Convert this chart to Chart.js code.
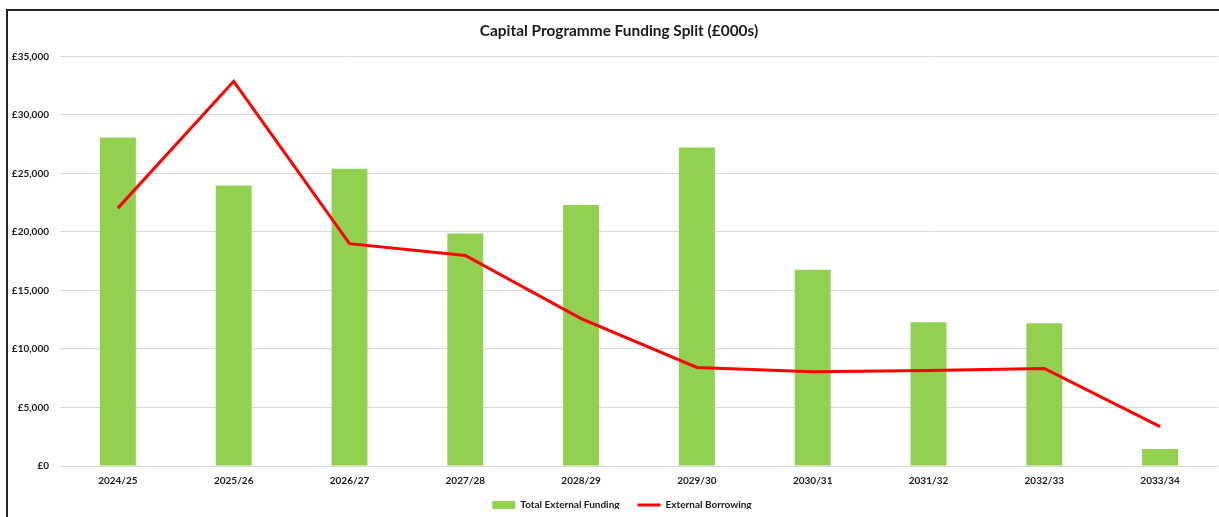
<!DOCTYPE html>
<html>
<head>
<meta charset="utf-8">
<script src="https://cdn.jsdelivr.net/npm/chart.js@4/dist/chart.umd.min.js"></script>
<style>
  html, body { margin: 0; padding: 0; background: #ffffff; }
  #wrap { position: relative; width: 1219px; height: 517px; overflow: hidden; }
  #frame { position: absolute; left: 6px; top: 9px; width: 1400px; height: 700px;
           border-left: 2px solid #222; border-top: 2px solid #222; }
  #c { position: absolute; left: 0; top: 0; }
</style>
</head>
<body>
<div id="wrap">
  <div id="frame"></div>
  <canvas id="c" width="1219" height="517"></canvas>
</div>
<script>
const categories = ['2024/25','2025/26','2026/27','2027/28','2028/29','2029/30','2030/31','2031/32','2032/33','2033/34'];
const totalExternalFunding = [28070, 23980, 25400, 19880, 22300, 27220, 16780, 12290, 12200, 1450];
const externalBorrowing = [22040, 32880, 19000, 18000, 12600, 8420, 8050, 8170, 8330, 3360];
const seriesNames = ['Total External Funding', 'External Borrowing'];
const titleText = 'Capital Programme Funding Split (£000s)';
const yMax = 35000;
const yStep = 5000;

const FONT = 'Lato, "Open Sans", sans-serif';
const TXT = '#1a1a1a';

// keeps the legend compact in the layout and places title / legend as in the reference
const boxPlacer = {
  id: 'boxPlacer',
  afterInit(chart) {
    const lg = chart.legend;
    if (!lg) return;
    const origFit = lg.fit.bind(lg);
    lg.fit = function () { origFit(); this.height = 27; };
  },
  afterLayout(chart) {
    const lg = chart.legend;
    if (lg) {
      lg.top -= 8; lg.bottom -= 8;
      lg.left += 8; lg.right += 8;
    }
    const tb = chart.titleBlock;
    if (tb) { tb.left += 5; tb.right += 5; }
  }
};

new Chart(document.getElementById('c'), {
  type: 'bar',
  data: {
    labels: categories,
    datasets: [
      {
        type: 'bar',
        label: seriesNames[0],
        data: totalExternalFunding,
        backgroundColor: '#92D050',
        borderWidth: 0,
        barPercentage: 0.31,
        categoryPercentage: 1.0,
        pointStyle: 'rect',
        order: 2
      },
      {
        type: 'line',
        label: seriesNames[1],
        data: externalBorrowing,
        borderColor: '#FF0000',
        backgroundColor: '#FF0000',
        borderWidth: 3,
        pointRadius: 0,
        tension: 0,
        fill: false,
        pointStyle: 'line',
        order: 1
      }
    ]
  },
  plugins: [boxPlacer],
  options: {
    responsive: false,
    animation: false,
    layout: { padding: { top: 14, left: 10, right: 1, bottom: 0 } },
    plugins: {
      title: {
        display: true,
        text: titleText,
        color: TXT,
        font: { family: FONT, size: 15.4, weight: 'bold' },
        padding: { top: 8, bottom: 16 }
      },
      legend: {
        position: 'bottom',
        labels: {
          usePointStyle: true,
          pointStyleWidth: 23,
          boxHeight: 8,
          padding: 18,
          color: TXT,
          font: { family: FONT, size: 10, weight: 'bold' },
          sort: (a, b) => a.datasetIndex - b.datasetIndex
        }
      },
      tooltip: { enabled: false }
    },
    scales: {
      x: {
        grid: { display: false, drawTicks: false },
        border: { display: false },
        ticks: {
          color: TXT,
          padding: 9,
          maxRotation: 0,
          font: { family: FONT, size: 10, weight: 'bold' }
        },
        afterFit: (s) => { s.height = 24; }
      },
      y: {
        min: 0,
        max: yMax,
        grid: { color: '#d9d9d9', lineWidth: 1, drawTicks: false },
        border: { display: false },
        ticks: {
          stepSize: yStep,
          color: TXT,
          padding: 11,
          font: { family: FONT, size: 10, weight: 'bold' },
          callback: (v) => '£' + Number(v).toLocaleString('en-GB')
        },
        afterFit: (s) => { s.width = 50; }
      }
    }
  }
});
</script>
</body>
</html>
